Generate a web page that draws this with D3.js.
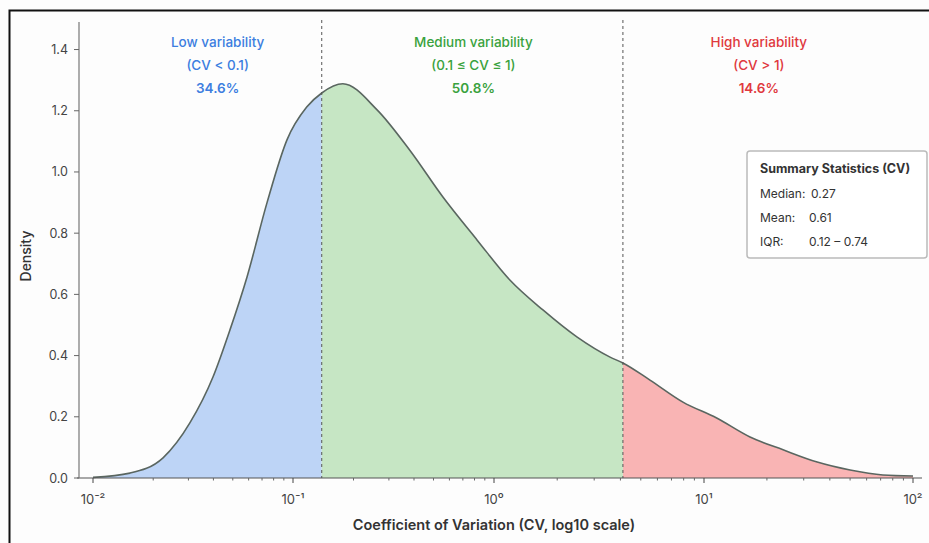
<!DOCTYPE html>
<html>
<head>
<meta charset="utf-8">
<script src="https://cdn.jsdelivr.net/npm/d3@7"></script>
<style>
  body { margin: 0; background: #fff; }
  text { font-family: Inter, "Open Sans", sans-serif; }
</style>
</head>
<body>
<script>
// density curve (CV on log scale)
const cvValues = [0.01, 0.0153, 0.0224, 0.0305, 0.0398, 0.0484, 0.0589, 0.0741, 0.0933, 0.117,
    0.139, 0.177, 0.262, 0.382, 0.557, 0.823, 1.19, 1.71, 2.48, 3.57,
    4.11, 5.53, 7.94, 11.5, 16.6, 23.9, 34.8, 50.0, 71.8, 100];
const densityValues = [0.002, 0.016, 0.066, 0.18, 0.33, 0.484, 0.657, 0.899, 1.105, 1.212,
    1.258, 1.288, 1.203, 1.07, 0.918, 0.778, 0.647, 0.549, 0.461, 0.395,
    0.376, 0.32, 0.248, 0.196, 0.134, 0.092, 0.052, 0.026, 0.01, 0.0065];

const thresholds = [0.139, 4.11];
const regionNames = ["Low variability", "Medium variability", "High variability"];
const regionRanges = ["(CV < 0.1)", "(0.1 \u2264 CV \u2264 1)", "(CV > 1)"];
const regionShares = ["34.6%", "50.8%", "14.6%"];
const regionLabelAt = [0.042, 0.79, 18.3];
const regionFill = ["#bdd4f6", "#c6e6c4", "#f9b4b4"];
const regionText = ["#3c7ee0", "#3aa23e", "#e0393e"];

const xTicks = [0.01, 0.1, 1, 10, 100];
const xTickLabels = ["10\u207B\u00B2", "10\u207B\u00B9", "10\u2070", "10\u00B9", "10\u00B2"];
const yTicks = [0, 0.2, 0.4, 0.6, 0.8, 1.0, 1.2, 1.4];

const statLabels = ["Median:", "Mean:", "IQR:"];
const statValues = ["0.27", "0.61", "0.12 \u2013 0.74"];

const width = 929, height = 543;
const data = cvValues.map((v, i) => ({cv: v, d: densityValues[i]}));

const svg = d3.select("body").append("svg")
    .attr("width", width)
    .attr("height", height);

svg.append("rect").attr("width", width).attr("height", height).attr("fill", "#fdfdfd");
// frame (only left / top edges visible in the picture)
svg.append("path")
    .attr("d", "M9.5,543 L9.5,10.5 L929,10.5")
    .attr("fill", "none").attr("stroke", "#111").attr("stroke-width", 2);

const x = d3.scaleLog()
    .domain([0.01, 0.1, 1, 10, 100])
    .range([93, 293, 494, 704, 913]);
const y = d3.scaleLinear().domain([0, 1.49]).range([478, 22]);

const area = d3.area()
    .x(d => x(d.cv))
    .y0(y(0))
    .y1(d => y(d.d))
    .curve(d3.curveMonotoneX);
const line = d3.line()
    .x(d => x(d.cv))
    .y(d => y(d.d))
    .curve(d3.curveMonotoneX);

const bounds = [x(0.01), x(thresholds[0]), x(thresholds[1]), x(100) + 1];
const defs = svg.append("defs");
regionFill.forEach((c, i) => {
    defs.append("clipPath").attr("id", "clip" + i)
        .append("rect")
        .attr("x", bounds[i]).attr("y", 0)
        .attr("width", bounds[i + 1] - bounds[i]).attr("height", height);
    svg.append("path")
        .datum(data)
        .attr("clip-path", `url(#clip${i})`)
        .attr("fill", c)
        .attr("d", area);
});

svg.append("path")
    .datum(data)
    .attr("fill", "none")
    .attr("stroke", "#5a6660")
    .attr("stroke-width", 1.6)
    .attr("d", line);

// threshold lines
svg.selectAll(".thr")
    .data(thresholds)
    .enter()
    .append("line")
    .attr("x1", d => x(d)).attr("x2", d => x(d))
    .attr("y1", 20).attr("y2", y(0))
    .attr("stroke", "#555")
    .attr("stroke-width", 1)
    .attr("stroke-dasharray", "3,3");

// region labels
regionNames.forEach((n, i) => {
    const t = svg.append("text")
        .attr("x", x(regionLabelAt[i]))
        .attr("text-anchor", "middle")
        .attr("fill", regionText[i])
        .style("font-size", "13.5px");
    [n, regionRanges[i], regionShares[i]].forEach((s, k) => {
        t.append("tspan")
            .attr("x", x(regionLabelAt[i]))
            .attr("y", 47 + k * 23)
            .style("font-weight", k == 2 ? 600 : 500)
            .text(s);
    });
});

// axes
const xAxis = svg.append("g").attr("transform", `translate(0, ${y(0)})`);
xAxis.append("line").attr("x1", 77).attr("x2", 922).attr("stroke", "#555").attr("stroke-width", 1.2);
const minor = [];
for (let e = -2; e < 2; e++) for (let m = 2; m < 10; m++) minor.push(m * Math.pow(10, e));
xAxis.selectAll(".minor").data(minor).enter().append("line")
    .attr("x1", d => x(d)).attr("x2", d => x(d))
    .attr("y1", 0).attr("y2", 2.5)
    .attr("stroke", "#666");
xAxis.selectAll(".major").data(xTicks).enter().append("line")
    .attr("x1", d => x(d)).attr("x2", d => x(d))
    .attr("y1", 0).attr("y2", 5)
    .attr("stroke", "#444");
xAxis.selectAll(".lbl").data(xTicks).enter().append("text")
    .attr("x", d => x(d)).attr("y", 26)
    .attr("text-anchor", "middle")
    .attr("fill", "#444")
    .style("font-size", "13px")
    .text((d, i) => xTickLabels[i]);

const yAxis = svg.append("g").attr("transform", "translate(79, 0)");
yAxis.append("line").attr("y1", 22).attr("y2", y(0)).attr("stroke", "#777").attr("stroke-width", 1.2);
yAxis.selectAll(".tick").data(yTicks).enter().append("line")
    .attr("x1", -5).attr("x2", 0)
    .attr("y1", d => y(d)).attr("y2", d => y(d))
    .attr("stroke", "#666");
yAxis.selectAll(".lbl").data(yTicks).enter().append("text")
    .attr("x", -11).attr("y", d => y(d) + 4.5)
    .attr("text-anchor", "end")
    .attr("fill", "#444")
    .style("font-size", "12.5px")
    .text(d => d.toFixed(1));

svg.append("text")
    .attr("x", 494).attr("y", 530)
    .attr("text-anchor", "middle")
    .attr("fill", "#333")
    .style("font-size", "14.5px")
    .style("font-weight", 600)
    .text("Coefficient of Variation (CV, log10 scale)");

svg.append("text")
    .attr("transform", "translate(31, 256) rotate(-90)")
    .attr("text-anchor", "middle")
    .attr("fill", "#333")
    .style("font-size", "14px")
    .style("font-weight", 500)
    .text("Density");

// summary box
const box = svg.append("g").attr("transform", "translate(747, 151)");
box.append("rect")
    .attr("width", 180).attr("height", 107).attr("rx", 3)
    .attr("fill", "#fff").attr("stroke", "#bbb").attr("stroke-width", 1.5);
box.append("text")
    .attr("x", 13).attr("y", 22)
    .attr("fill", "#333")
    .style("font-size", "12.5px").style("font-weight", 700)
    .text("Summary Statistics (CV)");
statLabels.forEach((l, i) => {
    box.append("text")
        .attr("x", 13).attr("y", 47 + i * 24)
        .attr("fill", "#333").style("font-size", "12px")
        .text(l);
    box.append("text")
        .attr("x", i == 0 ? 64 : 62).attr("y", 47 + i * 24)
        .attr("fill", "#333").style("font-size", "12px")
        .text(statValues[i]);
});
</script>
</body>
</html>
